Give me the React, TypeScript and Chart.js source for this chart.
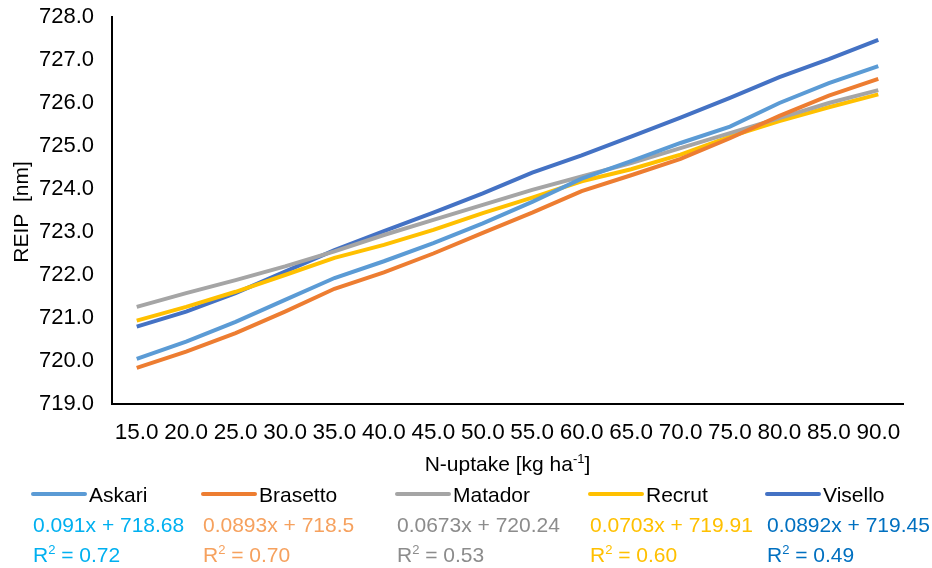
import React, { useEffect, useRef } from "react";
import { Chart, registerables } from "chart.js";

Chart.register(...registerables);

// N-uptake categories (kg ha-1)
const nUptake = [
  "15.0", "20.0", "25.0", "30.0", "35.0", "40.0", "45.0", "50.0",
  "55.0", "60.0", "65.0", "70.0", "75.0", "80.0", "85.0", "90.0",
];

// REIP values (nm) per variety
const askari = [720.05, 720.45, 720.91, 721.42, 721.93, 722.32, 722.74, 723.2, 723.7, 724.24, 724.65, 725.07, 725.45, 726.0, 726.46, 726.86];
const brasetto = [719.84, 720.22, 720.65, 721.15, 721.68, 722.06, 722.5, 722.98, 723.45, 723.95, 724.32, 724.7, 725.18, 725.7, 726.17, 726.56];
const matador = [721.26, 721.58, 721.88, 722.2, 722.55, 722.93, 723.28, 723.63, 723.98, 724.29, 724.6, 724.95, 725.3, 725.65, 726.0, 726.3];
const recrut = [720.94, 721.26, 721.61, 722.0, 722.4, 722.7, 723.05, 723.44, 723.8, 724.18, 724.46, 724.8, 725.22, 725.58, 725.9, 726.2];
const visello = [720.8, 721.15, 721.58, 722.08, 722.58, 723.02, 723.45, 723.9, 724.38, 724.78, 725.22, 725.66, 726.12, 726.6, 727.02, 727.47];

const varieties = ["Askari", "Brasetto", "Matador", "Recrut", "Visello"];
const lineColors = ["#5B9BD5", "#ED7D31", "#A5A5A5", "#FFC000", "#4472C4"];

// Linear trend equations and fit quality
const equations = ["0.091x + 718.68", "0.0893x + 718.5", "0.0673x + 720.24", "0.0703x + 719.91", "0.0892x + 719.45"];
const rSquared = ["0.72", "0.70", "0.53", "0.60", "0.49"];
const equationColors = ["#00B0F0", "#F6A15E", "#8C8C8C", "#FFC000", "#0070C0"];

// Y axis range (nm)
const yMin = 719;
const yMax = 728;
const yStep = 1;

const FONT = "'Liberation Sans', Arial, sans-serif";

const legendX = [33, 203, 397, 590, 767];

const annotations = {
  id: "annotations",
  afterDraw(chart: Chart) {
    const ctx = chart.ctx;
    const area = chart.chartArea;
    ctx.save();

    // x-axis title with superscript
    ctx.fillStyle = "#000";
    ctx.textBaseline = "middle";
    const main = "N-uptake [kg ha";
    const sup = "-1";
    const tail = "]";
    ctx.font = `21px ${FONT}`;
    const wMain = ctx.measureText(main).width;
    const wTail = ctx.measureText(tail).width;
    ctx.font = `13px ${FONT}`;
    const wSup = ctx.measureText(sup).width;
    const cx = (area.left + area.right) / 2;
    let x = cx - (wMain + wSup + wTail) / 2;
    const ty = 465;
    ctx.textAlign = "left";
    ctx.font = `21px ${FONT}`;
    ctx.fillText(main, x, ty);
    x += wMain;
    ctx.font = `13px ${FONT}`;
    ctx.fillText(sup, x, ty - 6);
    x += wSup;
    ctx.font = `21px ${FONT}`;
    ctx.fillText(tail, x, ty);

    // y-axis title
    ctx.save();
    ctx.translate(22, 212);
    ctx.rotate(-Math.PI / 2);
    ctx.textAlign = "center";
    ctx.font = `21px ${FONT}`;
    ctx.fillText("REIP  [nm]", 0, 0);
    ctx.restore();

    // legend, trend equations and R²
    varieties.forEach((name, i) => {
      const lx = legendX[i];
      ctx.strokeStyle = lineColors[i];
      ctx.lineWidth = 4;
      ctx.lineCap = "round";
      ctx.beginPath();
      ctx.moveTo(lx, 494);
      ctx.lineTo(lx + 52, 494);
      ctx.stroke();

      ctx.textAlign = "left";
      ctx.fillStyle = "#000";
      ctx.font = `21px ${FONT}`;
      ctx.fillText(name, lx + 56, 496);

      ctx.fillStyle = equationColors[i];
      ctx.fillText(equations[i], lx, 526);

      ctx.fillText("R", lx, 556);
      const wR = ctx.measureText("R").width;
      ctx.font = `13px ${FONT}`;
      ctx.fillText("2", lx + wR, 550);
      const w2 = ctx.measureText("2").width;
      ctx.font = `21px ${FONT}`;
      ctx.fillText(" = " + rSquared[i], lx + wR + w2, 556);
    });

    ctx.restore();
  },
};

export default function App() {
  const canvasRef = useRef<HTMLCanvasElement | null>(null);

  useEffect(() => {
    document.body.style.margin = "0";
    const canvas = canvasRef.current;
    if (!canvas) return;
    const series = [askari, brasetto, matador, recrut, visello];

    const chart = new Chart(canvas, {
      type: "line",
      data: {
        labels: nUptake,
        datasets: varieties.map((name, i) => ({
          label: name,
          data: series[i],
          borderColor: lineColors[i],
          backgroundColor: lineColors[i],
          borderWidth: 4,
          pointRadius: 0,
          tension: 0,
          fill: false,
        })),
      },
      options: {
        responsive: false,
        animation: false,
        devicePixelRatio: 1,
        layout: { padding: { top: 17, right: 29, left: 0, bottom: 0 } },
        plugins: {
          legend: { display: false },
          tooltip: { enabled: false },
        },
        scales: {
          x: {
            offset: true,
            grid: { display: false, drawTicks: false },
            border: { display: true, color: "#000", width: 2 },
            ticks: {
              color: "#000",
              font: { family: FONT, size: 22.5 },
              padding: 15,
              maxRotation: 0,
              autoSkip: false,
            },
            afterFit(scale: any) {
              scale.height = 164;
            },
          },
          y: {
            min: yMin,
            max: yMax,
            grid: { display: false, drawTicks: false },
            border: { display: true, color: "#000", width: 2 },
            ticks: {
              stepSize: yStep,
              color: "#000",
              font: { family: FONT, size: 22 },
              padding: 18,
              callback: (v: any) => Number(v).toFixed(1),
            },
            afterFit(scale: any) {
              scale.width = 112;
              scale.paddingTop = 0;
              scale.paddingBottom = 0;
            },
          },
        },
      },
      plugins: [annotations],
    });

    return () => chart.destroy();
  }, []);

  return (
    <div style={{ position: "fixed", left: 0, top: 0, width: 932, height: 568, background: "#fff" }}>
      <canvas ref={canvasRef} width={932} height={568} />
    </div>
  );
}
